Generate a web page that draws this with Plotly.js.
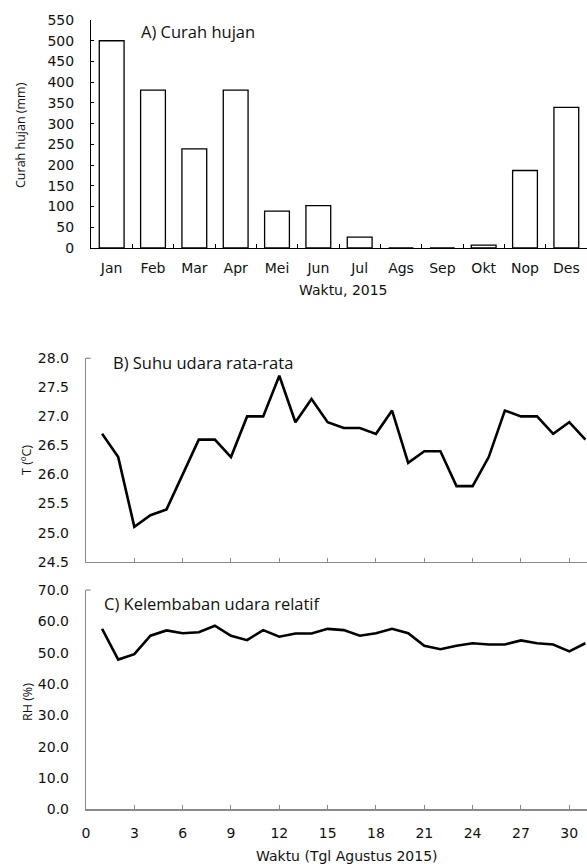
<!DOCTYPE html>
<html>
<head>
<meta charset="utf-8">
<script src="https://cdn.plot.ly/plotly-3.0.1.min.js"></script>
<style>html,body{margin:0;padding:0;background:#fff;}#chart{width:587px;height:864px;}</style>
</head>
<body>
<div id="chart"></div>
<script>
const months = ['Jan','Feb','Mar','Apr','Mei','Jun','Jul','Ags','Sep','Okt','Nop','Des'];
const rainfall = [500, 381, 239, 381, 89, 102, 26, 0, 0, 7, 187, 339];
const days = [1,2,3,4,5,6,7,8,9,10,11,12,13,14,15,16,17,18,19,20,21,22,23,24,25,26,27,28,29,30,31];
const temperature = [26.7,26.3,25.1,25.3,25.4,26.0,26.6,26.6,26.3,27.0,27.0,27.7,26.9,27.3,26.9,26.8,26.8,26.7,27.1,26.2,26.4,26.4,25.8,25.8,26.3,27.1,27.0,27.0,26.7,26.9,26.6];
const humidity = [57.6,47.8,49.5,55.4,57.1,56.2,56.5,58.6,55.4,54.0,57.2,55.1,56.1,56.1,57.6,57.2,55.4,56.2,57.6,56.2,52.2,51.1,52.2,53.0,52.6,52.6,53.9,53.0,52.6,50.4,53.0];

const W = 587, H = 864;
const px = v => v / W;
const py = v => 1 - v / H;
const tickFont = {family: 'DejaVu Sans', size: 14, color: '#111111'};
const xTitleFont = {family: 'DejaVu Sans', size: 14, color: '#111111'};
const yTitleFont = {family: 'Open Sans', size: 12.5, color: '#111111'};
const panelFont = {family: 'Open Sans', size: 16.5, color: '#111111'};
const gray = '#8a8a8a';

const traces = [
  {type: 'bar', x: months, y: rainfall, xaxis: 'x', yaxis: 'y',
   marker: {color: '#ffffff', line: {color: '#000000', width: 1.3}}, hoverinfo: 'x+y'},
  {type: 'scatter', mode: 'lines', x: days, y: temperature, xaxis: 'x2', yaxis: 'y2',
   line: {color: '#000000', width: 2.6}},
  {type: 'scatter', mode: 'lines', x: days, y: humidity, xaxis: 'x3', yaxis: 'y3',
   line: {color: '#000000', width: 2.6}}
];

const ann = (text, x, y, font, angle) => ({text: text, xref: 'paper', yref: 'paper', x: px(x), y: py(y),
  xanchor: 'center', yanchor: 'middle', showarrow: false, font: font, textangle: angle || 0});

const layout = {
  width: W, height: H,
  margin: {l: 0, r: 0, t: 0, b: 0},
  paper_bgcolor: '#ffffff', plot_bgcolor: '#ffffff',
  showlegend: false,
  bargap: 0.4,
  font: tickFont,
  xaxis: {domain: [px(91), 1], anchor: 'y', type: 'category', range: [-0.5, 11.5],
    showline: true, linecolor: '#000', linewidth: 1, ticks: 'inside', tickson: 'boundaries',
    ticklen: 4, tickcolor: '#000', tickfont: tickFont, ticklabelstandoff: 7, showgrid: false},
  yaxis: {domain: [py(248), py(20)], anchor: 'x', range: [0, 550], dtick: 50, tick0: 0,
    showline: true, linecolor: '#000', linewidth: 1, ticks: 'inside', ticklen: 3, tickcolor: '#000',
    tickfont: tickFont, ticklabelstandoff: 13, showgrid: false, zeroline: false},
  xaxis2: {domain: [px(86), 1], anchor: 'y2', range: [0, 31.1], dtick: 3, tick0: 0,
    showline: true, linecolor: gray, linewidth: 1.2, ticks: 'inside', ticklen: 4, tickcolor: gray,
    showticklabels: false, showgrid: false, zeroline: false},
  yaxis2: {domain: [py(561.7), py(358.3)], anchor: 'x2', range: [24.5, 28], dtick: 0.5, tick0: 24.5,
    tickformat: '.1f', showline: true, linecolor: gray, linewidth: 1.2, ticks: '',
    tickfont: tickFont, ticklabelstandoff: 13, showgrid: false, zeroline: false},
  xaxis3: {domain: [px(86), 1], anchor: 'y3', range: [0, 31.1], dtick: 3, tick0: 0,
    showline: true, linecolor: gray, linewidth: 1.2, ticks: 'inside', ticklen: 4, tickcolor: gray,
    tickfont: tickFont, ticklabelstandoff: 11, showgrid: false, zeroline: false},
  yaxis3: {domain: [py(809.3), py(590)], anchor: 'x3', range: [0, 70], dtick: 10, tick0: 0,
    tickformat: '.1f', showline: true, linecolor: gray, linewidth: 1.2, ticks: '',
    tickfont: tickFont, ticklabelstandoff: 13, showgrid: false, zeroline: false},
  shapes: [
    {type: 'line', xref: 'x2 domain', yref: 'y2 domain', x0: 0, x1: 0.009, y0: 1, y1: 1, line: {color: gray, width: 1.2}},
    {type: 'line', xref: 'x3 domain', yref: 'y3 domain', x0: 0, x1: 0.009, y0: 1, y1: 1, line: {color: gray, width: 1.2}}
  ],
  annotations: [
    {text: 'A) Curah hujan', xref: 'paper', yref: 'paper', x: px(139), y: py(32),
     xanchor: 'left', yanchor: 'middle', showarrow: false, font: panelFont},
    {text: 'B) Suhu udara rata-rata', xref: 'paper', yref: 'paper', x: px(111), y: py(363),
     xanchor: 'left', yanchor: 'middle', showarrow: false, font: panelFont},
    {text: 'C) Kelembaban udara relatif', xref: 'paper', yref: 'paper', x: px(102), y: py(603),
     xanchor: 'left', yanchor: 'middle', showarrow: false, font: panelFont},
    ann('Waktu, 2015', 343, 290, xTitleFont),
    ann('Waktu (Tgl Agustus 2015)', 347, 856, xTitleFont),
    ann('Curah hujan (mm)', 20, 135, yTitleFont, -90),
    ann('T (ºC)', 26, 460, yTitleFont, -90),
    ann('RH (%)', 27, 702, yTitleFont, -90)
  ]
};

Plotly.newPlot('chart', traces, layout, {staticPlot: true, displayModeBar: false});
</script>
</body>
</html>
